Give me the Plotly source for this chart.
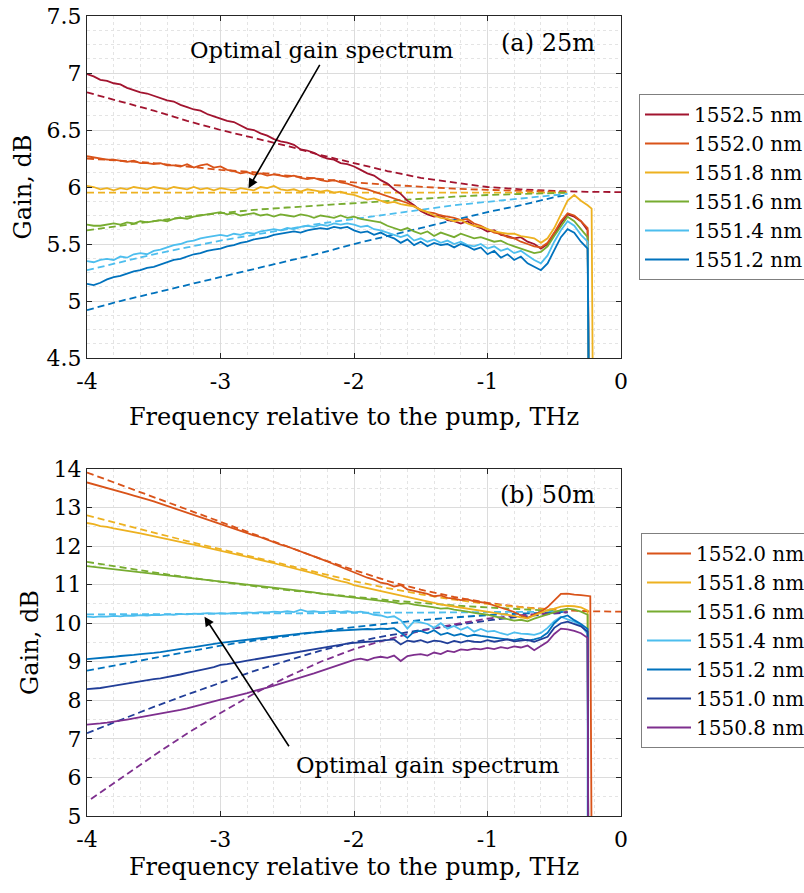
import numpy as np
import plotly.graph_objects as go

FONT = "DejaVu Serif"

# ---------------- data: panel (a) 25 m ----------------
x_grid = np.round(np.arange(-4.0, -0.25 + 1e-9, 0.05), 2)

a_labels = ["1552.5 nm", "1552.0 nm", "1551.8 nm", "1551.6 nm", "1551.4 nm", "1551.2 nm"]
a_colors = ["#A2142F", "#D95319", "#EDB120", "#77AC30", "#4DBEEE", "#0072BD"]

a_1552_5 = [6.99, 6.97, 6.94, 6.93, 6.91, 6.90, 6.87, 6.85, 6.83, 6.82,
            6.80, 6.78, 6.76, 6.75, 6.72, 6.70, 6.68, 6.67, 6.64, 6.62,
            6.60, 6.58, 6.57, 6.54, 6.51, 6.50, 6.47, 6.45, 6.42, 6.40,
            6.39, 6.37, 6.33, 6.32, 6.30, 6.27, 6.25, 6.24, 6.21, 6.20,
            6.18, 6.15, 6.12, 6.10, 6.06, 6.03, 5.98, 5.94, 5.88, 5.84,
            5.79, 5.76, 5.74, 5.75, 5.71, 5.70, 5.68, 5.70, 5.66, 5.64,
            5.61, 5.62, 5.58, 5.57, 5.55, 5.56, 5.52, 5.50, 5.46, 5.50,
            5.58, 5.68, 5.76, 5.74, 5.70, 5.62]
a_1552_0 = [6.27, 6.26, 6.25, 6.24, 6.24, 6.23, 6.22, 6.23, 6.21, 6.21,
            6.20, 6.21, 6.19, 6.19, 6.18, 6.20, 6.17, 6.19, 6.20, 6.17,
            6.18, 6.15, 6.14, 6.12, 6.13, 6.11, 6.12, 6.10, 6.11, 6.10,
            6.09, 6.10, 6.08, 6.07, 6.08, 6.06, 6.05, 6.06, 6.04, 6.03,
            6.01, 5.99, 5.98, 5.96, 5.94, 5.92, 5.90, 5.88, 5.86, 5.83,
            5.80, 5.78, 5.77, 5.75, 5.74, 5.73, 5.71, 5.72, 5.68, 5.66,
            5.63, 5.60, 5.59, 5.56, 5.55, 5.52, 5.50, 5.48, 5.47, 5.51,
            5.60, 5.70, 5.77, 5.75, 5.70, 5.64]
a_1551_8 = [6.01, 6.00, 5.98, 5.99, 5.97, 5.99, 5.98, 6.00, 5.99, 5.98,
            6.00, 5.99, 5.98, 6.00, 5.99, 5.98, 6.00, 5.98, 5.99, 5.97,
            5.99, 5.98, 5.97, 5.99, 5.98, 5.97, 6.00, 5.99, 6.01, 5.98,
            5.97, 5.98, 5.96, 5.98, 5.97, 5.96, 5.97, 5.95, 5.96, 5.94,
            5.93, 5.91, 5.89, 5.90, 5.88, 5.86, 5.87, 5.85, 5.84, 5.83,
            5.80, 5.78, 5.75, 5.73, 5.72, 5.70, 5.71, 5.68, 5.66, 5.65,
            5.63, 5.61, 5.60, 5.59, 5.59, 5.57, 5.56, 5.55, 5.51, 5.55,
            5.64, 5.76, 5.88, 5.93, 5.88, 5.84]
a_1551_6 = [5.67, 5.66, 5.66, 5.67, 5.68, 5.67, 5.69, 5.68, 5.70, 5.69,
            5.70, 5.71, 5.70, 5.72, 5.73, 5.72, 5.74, 5.75, 5.76, 5.77,
            5.78, 5.76, 5.77, 5.75, 5.76, 5.77, 5.75, 5.76, 5.74, 5.76,
            5.75, 5.74, 5.76, 5.75, 5.73, 5.75, 5.74, 5.73, 5.75, 5.73,
            5.74, 5.72, 5.71, 5.70, 5.69, 5.66, 5.64, 5.62, 5.64, 5.61,
            5.59, 5.61, 5.57, 5.60, 5.58, 5.56, 5.59, 5.57, 5.55, 5.56,
            5.54, 5.52, 5.53, 5.50, 5.48, 5.46, 5.44, 5.42, 5.43, 5.48,
            5.57, 5.66, 5.74, 5.70, 5.63, 5.56]
a_1551_4 = [5.35, 5.34, 5.36, 5.37, 5.36, 5.39, 5.38, 5.41, 5.42, 5.41,
            5.44, 5.45, 5.47, 5.49, 5.50, 5.52, 5.53, 5.55, 5.56, 5.57,
            5.58, 5.57, 5.59, 5.58, 5.60, 5.59, 5.61, 5.62, 5.63, 5.62,
            5.64, 5.63, 5.65, 5.66, 5.65, 5.67, 5.66, 5.68, 5.67, 5.68,
            5.67, 5.65, 5.66, 5.63, 5.62, 5.60, 5.58, 5.56, 5.58, 5.53,
            5.55, 5.52, 5.54, 5.51, 5.53, 5.50, 5.52, 5.49, 5.48, 5.50,
            5.46, 5.48, 5.44, 5.46, 5.42, 5.44, 5.40, 5.36, 5.33, 5.40,
            5.52, 5.62, 5.70, 5.66, 5.58, 5.52]
a_1551_2 = [5.15, 5.14, 5.16, 5.19, 5.21, 5.22, 5.24, 5.26, 5.27, 5.29,
            5.30, 5.32, 5.34, 5.36, 5.37, 5.39, 5.41, 5.42, 5.44, 5.45,
            5.46, 5.48, 5.49, 5.51, 5.52, 5.54, 5.55, 5.56, 5.58, 5.59,
            5.60, 5.61, 5.60, 5.62, 5.63, 5.64, 5.63, 5.65, 5.64, 5.65,
            5.62, 5.60, 5.61, 5.58, 5.60, 5.57, 5.55, 5.51, 5.54, 5.49,
            5.52, 5.48, 5.51, 5.49, 5.50, 5.47, 5.50, 5.48, 5.45, 5.47,
            5.41, 5.44, 5.38, 5.41, 5.36, 5.39, 5.33, 5.30, 5.27, 5.33,
            5.45, 5.56, 5.63, 5.60, 5.52, 5.46]
a_solid = [a_1552_5, a_1552_0, a_1551_8, a_1551_6, a_1551_4, a_1551_2]
# cut-off near the pump: (x, y) points where each trace falls off the axis
a_tail_x = [[-0.24], [-0.24], [-0.22, -0.21], [-0.24], [-0.24], [-0.24]]
a_tail_y = [[4.0], [4.0], [5.81, 4.0], [4.0], [4.0], [4.0]]

# model (dashed) curves, panel (a)
a_dash_x = [-4.0, -3.75, -3.5, -3.25, -3.0, -2.75, -2.5, -2.25, -2.0, -1.75,
            -1.5, -1.25, -1.0, -0.75, -0.5, -0.4]
a_dash_x_long = [-4.0, -3.75, -3.5, -3.25, -3.0, -2.75, -2.5, -2.25, -2.0, -1.75,
                 -1.5, -1.25, -1.0, -0.75, -0.5, -0.25, 0.0]
a_d_1552_5 = [6.83, 6.75, 6.67, 6.58, 6.50, 6.43, 6.36, 6.28, 6.21, 6.14,
              6.08, 6.04, 6.00, 5.98, 5.965, 5.958, 5.955]
a_d_1552_0 = [6.25, 6.23, 6.21, 6.18, 6.15, 6.13, 6.10, 6.07, 6.04, 6.02,
              6.00, 5.985, 5.975, 5.965, 5.958, 5.955]
a_d_1551_8 = [5.95, 5.95, 5.95, 5.95, 5.95, 5.95, 5.95, 5.95, 5.95, 5.95,
              5.95, 5.95, 5.95, 5.95, 5.95, 5.95]
a_d_1551_6 = [5.62, 5.66, 5.70, 5.74, 5.77, 5.80, 5.82, 5.84, 5.86, 5.88,
              5.90, 5.915, 5.93, 5.94, 5.948, 5.95]
a_d_1551_4 = [5.27, 5.34, 5.41, 5.47, 5.53, 5.58, 5.63, 5.68, 5.72, 5.76,
              5.80, 5.84, 5.87, 5.90, 5.93, 5.94]
a_d_1551_2 = [4.92, 5.00, 5.07, 5.14, 5.21, 5.28, 5.35, 5.42, 5.50, 5.57,
              5.64, 5.71, 5.78, 5.84, 5.91, 5.93]
a_dash = [a_d_1552_5, a_d_1552_0, a_d_1551_8, a_d_1551_6, a_d_1551_4, a_d_1551_2]
a_dash_xs = [a_dash_x_long, a_dash_x, a_dash_x, a_dash_x, a_dash_x, a_dash_x]

# ---------------- data: panel (b) 50 m ----------------
b_labels = ["1552.0 nm", "1551.8 nm", "1551.6 nm", "1551.4 nm", "1551.2 nm", "1551.0 nm", "1550.8 nm"]
b_colors = ["#D95319", "#EDB120", "#77AC30", "#4DBEEE", "#0072BD", "#213E98", "#7E2F8E"]

b_1552_0 = [13.65, 13.60, 13.55, 13.49, 13.45, 13.40, 13.36, 13.31, 13.25, 13.21,
            13.16, 13.10, 13.05, 12.99, 12.93, 12.88, 12.82, 12.76, 12.70, 12.63,
            12.57, 12.52, 12.45, 12.40, 12.34, 12.28, 12.23, 12.16, 12.10, 12.04,
            11.99, 11.93, 11.86, 11.80, 11.73, 11.67, 11.60, 11.53, 11.45, 11.38,
            11.30, 11.25, 11.18, 11.13, 11.05, 11.02, 10.95, 10.99, 10.88, 10.84,
            10.80, 10.76, 10.70, 10.72, 10.66, 10.64, 10.60, 10.62, 10.57, 10.55,
            10.52, 10.46, 10.41, 10.35, 10.29, 10.20, 10.14, 10.22, 10.30, 10.42,
            10.60, 10.76, 10.77, 10.74, 10.73, 10.72]
b_1551_8 = [12.60, 12.57, 12.52, 12.50, 12.46, 12.42, 12.40, 12.36, 12.33, 12.29,
            12.26, 12.22, 12.18, 12.15, 12.11, 12.07, 12.04, 12.00, 11.96, 11.92,
            11.88, 11.85, 11.80, 11.77, 11.72, 11.68, 11.64, 11.60, 11.56, 11.51,
            11.47, 11.43, 11.38, 11.34, 11.29, 11.24, 11.20, 11.14, 11.09, 11.05,
            10.99, 10.95, 10.92, 10.87, 10.84, 10.79, 10.75, 10.72, 10.67, 10.64,
            10.60, 10.56, 10.52, 10.49, 10.46, 10.43, 10.40, 10.37, 10.35, 10.32,
            10.29, 10.27, 10.24, 10.22, 10.19, 10.16, 10.12, 10.20, 10.28, 10.34,
            10.38, 10.43, 10.45, 10.44, 10.41, 10.33]
b_1551_6 = [11.48, 11.46, 11.45, 11.42, 11.41, 11.38, 11.37, 11.35, 11.33, 11.30,
            11.29, 11.27, 11.25, 11.23, 11.21, 11.19, 11.17, 11.15, 11.13, 11.11,
            11.09, 11.07, 11.05, 11.03, 11.01, 10.99, 10.97, 10.95, 10.93, 10.90,
            10.89, 10.86, 10.84, 10.82, 10.80, 10.77, 10.75, 10.73, 10.71, 10.68,
            10.66, 10.64, 10.62, 10.61, 10.58, 10.56, 10.54, 10.50, 10.52, 10.48,
            10.46, 10.43, 10.41, 10.38, 10.39, 10.35, 10.33, 10.30, 10.27, 10.25,
            10.22, 10.18, 10.14, 10.10, 10.07, 10.09, 10.05, 10.12, 10.18, 10.23,
            10.29, 10.34, 10.38, 10.35, 10.30, 10.22]
b_1551_4 = [10.17, 10.16, 10.18, 10.17, 10.19, 10.18, 10.20, 10.19, 10.21, 10.20,
            10.22, 10.21, 10.23, 10.22, 10.24, 10.23, 10.25, 10.24, 10.26, 10.25,
            10.26, 10.25, 10.27, 10.26, 10.28, 10.27, 10.29, 10.28, 10.30, 10.29,
            10.31, 10.29, 10.35, 10.30, 10.31, 10.29, 10.30, 10.32, 10.29, 10.31,
            10.28, 10.30, 10.27, 10.22, 10.20, 10.15, 10.18, 10.08, 9.86, 10.05,
            10.02, 9.98, 9.88, 10.00, 9.86, 9.93, 9.83, 9.90, 9.78, 9.85,
            9.78, 9.80, 9.74, 9.70, 9.76, 9.73, 9.72, 9.70, 9.75, 9.88,
            10.05, 10.17, 10.10, 10.04, 9.95, 9.72]
b_1551_2 = [9.07, 9.08, 9.10, 9.11, 9.13, 9.15, 9.16, 9.18, 9.20, 9.21,
            9.23, 9.25, 9.28, 9.30, 9.33, 9.36, 9.38, 9.41, 9.43, 9.46,
            9.49, 9.51, 9.53, 9.55, 9.58, 9.60, 9.62, 9.64, 9.66, 9.68,
            9.70, 9.72, 9.73, 9.75, 9.76, 9.78, 9.79, 9.80, 9.81, 9.82,
            9.82, 9.83, 9.85, 9.84, 9.86, 9.85, 9.87, 9.75, 9.62, 9.78,
            9.80, 9.74, 9.82, 9.70, 9.75, 9.68, 9.72, 9.66, 9.70, 9.67,
            9.64, 9.62, 9.60, 9.58, 9.56, 9.60, 9.55, 9.58, 9.63, 9.75,
            10.00, 10.15, 10.20, 10.08, 9.98, 9.85]
b_1551_0 = [8.29, 8.30, 8.32, 8.35, 8.38, 8.41, 8.43, 8.47, 8.50, 8.52,
            8.55, 8.57, 8.60, 8.63, 8.67, 8.71, 8.74, 8.78, 8.82, 8.86,
            8.92, 8.94, 8.98, 9.00, 9.03, 9.06, 9.09, 9.12, 9.15, 9.18,
            9.21, 9.24, 9.27, 9.30, 9.33, 9.36, 9.38, 9.42, 9.44, 9.47,
            9.49, 9.51, 9.52, 9.53, 9.55, 9.56, 9.58, 9.45, 9.55, 9.52,
            9.56, 9.50, 9.55, 9.53, 9.48, 9.54, 9.50, 9.55, 9.52, 9.51,
            9.56, 9.52, 9.55, 9.58, 9.53, 9.55, 9.57, 9.52, 9.58, 9.65,
            9.88, 10.00, 10.04, 9.98, 9.92, 9.78]
b_1550_8 = [7.37, 7.38, 7.40, 7.42, 7.44, 7.47, 7.50, 7.53, 7.56, 7.59,
            7.62, 7.65, 7.68, 7.71, 7.75, 7.79, 7.83, 7.88, 7.93, 7.98,
            8.02, 8.06, 8.10, 8.15, 8.19, 8.24, 8.28, 8.33, 8.38, 8.43,
            8.48, 8.54, 8.59, 8.64, 8.70, 8.76, 8.82, 8.88, 8.94, 9.00,
            9.05, 9.08, 9.04, 9.10, 9.13, 9.10, 9.16, 9.02, 9.15, 9.18,
            9.20, 9.16, 9.24, 9.20, 9.28, 9.25, 9.32, 9.30, 9.34, 9.32,
            9.36, 9.33, 9.38, 9.35, 9.40, 9.37, 9.42, 9.30, 9.40, 9.52,
            9.72, 9.86, 9.84, 9.80, 9.74, 9.62]
b_solid = [b_1552_0, b_1551_8, b_1551_6, b_1551_4, b_1551_2, b_1551_0, b_1550_8]
b_tail_x = [[-0.23, -0.22], [-0.245], [-0.245], [-0.25], [-0.245], [-0.245], [-0.245]]
b_tail_y = [[10.70, 4.0], [4.0], [4.0], [4.0], [4.0], [4.0], [4.0]]

b_dash_x = [-4.0, -3.75, -3.5, -3.25, -3.0, -2.75, -2.5, -2.25, -2.0, -1.75,
            -1.5, -1.25, -1.0, -0.75, -0.5, -0.4]
b_dash_x_long = [-4.0, -3.75, -3.5, -3.25, -3.0, -2.75, -2.5, -2.25, -2.0, -1.75,
                 -1.5, -1.25, -1.0, -0.75, -0.5, -0.25, 0.0]
b_dash_x_purple = [-3.97, -3.75, -3.5, -3.25, -3.0, -2.75, -2.5, -2.25, -2.0, -1.75,
                   -1.5, -1.25, -1.0, -0.75, -0.5, -0.4]
b_d_1552_0 = [13.91, 13.59, 13.26, 12.94, 12.62, 12.30, 11.98, 11.67, 11.38, 11.10,
              10.87, 10.68, 10.53, 10.42, 10.35, 10.31, 10.30]
b_d_1551_8 = [12.80, 12.57, 12.35, 12.13, 11.92, 11.71, 11.50, 11.29, 11.09, 10.91,
              10.75, 10.61, 10.50, 10.41, 10.34, 10.31]
b_d_1551_6 = [11.59, 11.45, 11.32, 11.19, 11.07, 10.96, 10.86, 10.77, 10.68, 10.60,
              10.53, 10.46, 10.41, 10.36, 10.32, 10.30]
b_d_1551_4 = [10.23, 10.23, 10.24, 10.24, 10.25, 10.25, 10.26, 10.26, 10.27, 10.27,
              10.28, 10.28, 10.29, 10.29, 10.30, 10.30]
b_d_1551_2 = [8.77, 8.93, 9.09, 9.26, 9.42, 9.55, 9.67, 9.79, 9.90, 9.99,
              10.08, 10.15, 10.21, 10.25, 10.28, 10.29]
b_d_1551_0 = [7.15, 7.50, 7.83, 8.15, 8.46, 8.76, 9.03, 9.29, 9.51, 9.68,
              9.82, 9.95, 10.07, 10.17, 10.25, 10.28]
b_d_1550_8 = [5.44, 5.97, 6.57, 7.14, 7.67, 8.17, 8.61, 9.00, 9.33, 9.58,
              9.80, 9.97, 10.12, 10.21, 10.27, 10.29]
b_dash = [b_d_1552_0, b_d_1551_8, b_d_1551_6, b_d_1551_4, b_d_1551_2, b_d_1551_0, b_d_1550_8]
b_dash_xs = [b_dash_x_long, b_dash_x, b_dash_x, b_dash_x, b_dash_x, b_dash_x, b_dash_x_purple]

# ticks
x_tickvals = [-4, -3, -2, -1, 0]
x_ticktext = ["-4", "-3", "-2", "-1", "0"]
a_tickvals = [4.5, 5, 5.5, 6, 6.5, 7, 7.5]
a_ticktext = ["4.5", "5", "5.5", "6", "6.5", "7", "7.5"]
b_tickvals = [5, 6, 7, 8, 9, 10, 11, 12, 13, 14]
b_ticktext = ["5", "6", "7", "8", "9", "10", "11", "12", "13", "14"]

# ---------------- figure ----------------
W, H = 804, 893
fig = go.Figure()

def px_x(p):
    return p / W

def px_y(p):
    return 1 - p / H

DASH = "7px,4px"

for i, lab in enumerate(a_labels):
    fig.add_trace(go.Scatter(x=a_dash_xs[i], y=a_dash[i], mode="lines",
                             line=dict(color=a_colors[i], width=1.8, dash=DASH),
                             showlegend=False, xaxis="x", yaxis="y", hoverinfo="skip"))
for i, lab in enumerate(a_labels):
    xs = list(x_grid) + a_tail_x[i]
    ys = a_solid[i] + a_tail_y[i]
    fig.add_trace(go.Scatter(x=xs, y=ys, mode="lines", name=lab,
                             line=dict(color=a_colors[i], width=1.8),
                             legend="legend", xaxis="x", yaxis="y"))

for i, lab in enumerate(b_labels):
    fig.add_trace(go.Scatter(x=b_dash_xs[i], y=b_dash[i], mode="lines",
                             line=dict(color=b_colors[i], width=1.8, dash=DASH),
                             showlegend=False, xaxis="x2", yaxis="y2", hoverinfo="skip"))
for i, lab in enumerate(b_labels):
    xs = list(x_grid) + b_tail_x[i]
    ys = b_solid[i] + b_tail_y[i]
    fig.add_trace(go.Scatter(x=xs, y=ys, mode="lines", name=lab,
                             line=dict(color=b_colors[i], width=1.8),
                             legend="legend2", xaxis="x2", yaxis="y2"))

axis_common = dict(
    showline=True, linecolor="#262626", linewidth=1, mirror="ticks",
    ticks="inside", ticklen=5, tickcolor="#262626",
    showgrid=True, gridcolor="#DCDCDC", gridwidth=1,
    zeroline=False,
    tickfont=dict(family=FONT, size=22, color="#000000"),
)
minor_common = dict(showgrid=True, gridcolor="#E4E4E4", griddash="dot", gridwidth=1, ticks="")
title_font = dict(family=FONT, size=24, color="#000")

xdom = [px_x(87), px_x(621)]
fig.update_layout(
    xaxis=dict(domain=xdom, anchor="y", range=[-4, 0], tickvals=x_tickvals, ticktext=x_ticktext,
               minor=dict(dtick=0.2, **minor_common), ticklabelstandoff=4,
               title=dict(text="Frequency relative to the pump, THz", font=title_font, standoff=14),
               **axis_common),
    yaxis=dict(domain=[px_y(358), px_y(16)], anchor="x", range=[4.5, 7.5], tickvals=a_tickvals, ticktext=a_ticktext,
               minor=dict(dtick=0.125, tick0=4.5, **minor_common),
               title=dict(text="Gain, dB", font=title_font, standoff=8),
               **axis_common),
    xaxis2=dict(domain=xdom, anchor="y2", range=[-4, 0], tickvals=x_tickvals, ticktext=x_ticktext,
                minor=dict(dtick=0.2, **minor_common), ticklabelstandoff=4,
                title=dict(text="Frequency relative to the pump, THz", font=title_font, standoff=6),
                **axis_common),
    yaxis2=dict(domain=[px_y(816), px_y(469)], anchor="x2", range=[5, 14], tickvals=b_tickvals, ticktext=b_ticktext,
                minor=dict(dtick=0.5, tick0=5, **minor_common),
                title=dict(text="Gain, dB", font=title_font, standoff=8),
                **axis_common),
    legend=dict(x=px_x(639), y=px_y(94), xanchor="left", yanchor="top",
                bgcolor="white", bordercolor="#7F7F7F", borderwidth=1,
                font=dict(family=FONT, size=20, color="#000"), tracegroupgap=0, itemwidth=44),
    legend2=dict(x=px_x(641), y=px_y(533), xanchor="left", yanchor="top",
                 bgcolor="white", bordercolor="#7F7F7F", borderwidth=1,
                 font=dict(family=FONT, size=20, color="#000"), tracegroupgap=0, itemwidth=44),
    width=W, height=H,
    margin=dict(l=0, r=0, t=0, b=0, autoexpand=False),
    paper_bgcolor="white", plot_bgcolor="white",
    font=dict(family=FONT, color="#000"),
    showlegend=True,
)

ann_font = dict(family=FONT, size=22.6, color="#000")
fig.add_annotation(x=-2.24, y=7.20, xref="x", yref="y", text="Optimal gain spectrum",
                   showarrow=False, font=ann_font)
fig.add_annotation(x=-2.79, y=5.99, ax=-2.25, ay=7.085, xref="x", yref="y", axref="x", ayref="y",
                   text="", showarrow=True, arrowhead=2, arrowsize=1.2, arrowwidth=1.6, arrowcolor="#000")
fig.add_annotation(x=-0.55, y=7.26, xref="x", yref="y", text="(a) 25m",
                   showarrow=False, font=dict(family=FONT, size=24, color="#000"))

fig.add_annotation(x=-1.45, y=6.31, xref="x2", yref="y2", text="Optimal gain spectrum",
                   showarrow=False, font=ann_font)
fig.add_annotation(x=-3.12, y=10.17, ax=-2.48, ay=6.77, xref="x2", yref="y2", axref="x2", ayref="y2",
                   text="", showarrow=True, arrowhead=2, arrowsize=1.2, arrowwidth=1.6, arrowcolor="#000")
fig.add_annotation(x=-0.55, y=13.33, xref="x2", yref="y2", text="(b) 50m",
                   showarrow=False, font=dict(family=FONT, size=24, color="#000"))

fig.write_html("out.html")
